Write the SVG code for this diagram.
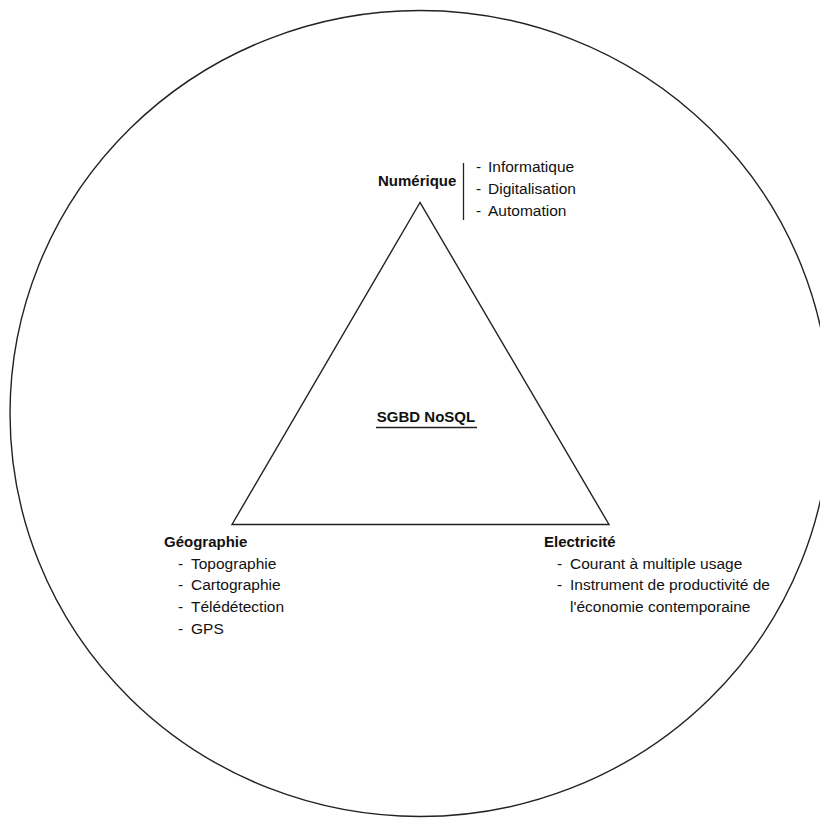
<svg xmlns="http://www.w3.org/2000/svg" width="820" height="818" viewBox="0 0 820 818">
<style>
text{font-family:"Liberation Sans",Arial,sans-serif;font-size:15.5px;fill:#111}
.b{font-weight:bold;font-size:15px}
.ln{fill:none;stroke:#222;stroke-width:1.4}
</style>
<rect width="820" height="818" fill="#fff"/>
<g id="outer-circle"><ellipse class="ln" cx="420" cy="413.5" rx="410" ry="403"/></g>
<g id="connectors"><polygon class="ln" points="420,202.5 232,524.5 609,524.5"/></g>
<g id="center">
<text class="b" x="426" y="422" text-anchor="middle">SGBD NoSQL</text>
<line x1="376" y1="427.5" x2="477" y2="427.5" stroke="#222" stroke-width="1.5"/>
</g>
<g id="numerique">
<text class="b" x="378" y="186">Numérique</text>
<line x1="463.5" y1="163" x2="463.5" y2="220" stroke="#222" stroke-width="1.3"/>
<text x="476" y="172">-</text><text x="488" y="172">Informatique</text>
<text x="476" y="194">-</text><text x="488" y="194">Digitalisation</text>
<text x="476" y="215.5">-</text><text x="488" y="215.5">Automation</text>
</g>
<g id="geographie">
<text class="b" x="164" y="547">Géographie</text>
<text x="178" y="568.5">-</text><text x="191" y="568.5">Topographie</text>
<text x="178" y="590">-</text><text x="191" y="590">Cartographie</text>
<text x="178" y="612">-</text><text x="191" y="612">Télédétection</text>
<text x="178" y="634">-</text><text x="191" y="634">GPS</text>
</g>
<g id="electricite">
<text class="b" x="544" y="547">Electricité</text>
<text x="557" y="568.5">-</text><text x="570" y="568.5">Courant à multiple usage</text>
<text x="557" y="590">-</text><text x="570" y="590">Instrument de productivité de</text>
<text x="570" y="611.5">l'économie contemporaine</text>
</g>
</svg>
